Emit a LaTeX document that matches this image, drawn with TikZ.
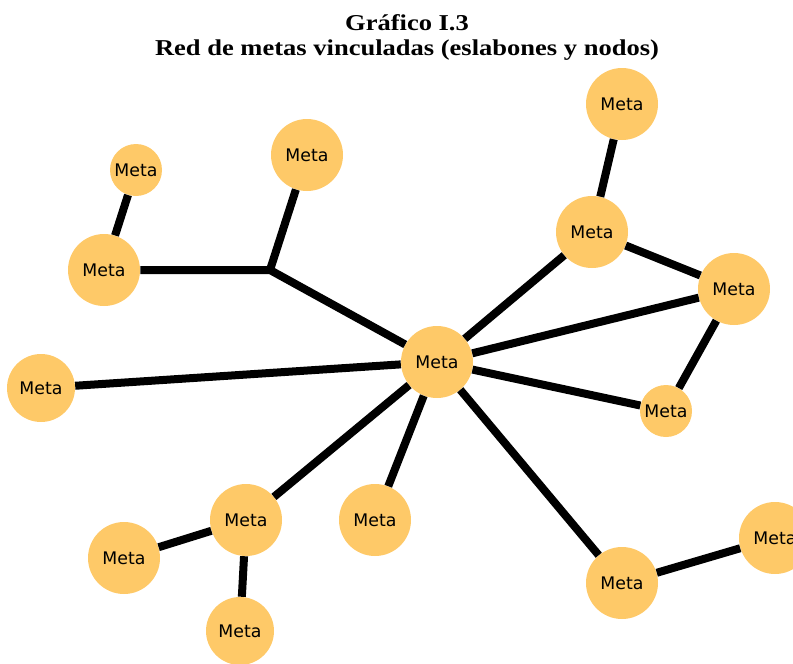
\documentclass[tikz,border=0pt]{standalone}
\usepackage{fontspec}
\setmainfont{Liberation Serif}
\newfontfamily\metafont{DejaVu Sans}
\newfontfamily\titlefont[FakeStretch=1.17]{Liberation Serif Bold}
\usetikzlibrary{calc}

\definecolor{metaorange}{RGB}{254,201,104}

\begin{document}
\begin{tikzpicture}[x=0.75pt,y=-0.75pt,
  meta/.style={circle, fill=metaorange, minimum size=54pt, inner sep=0pt, font=\metafont\fontsize{13}{15}\selectfont},
  metasmall/.style={meta, minimum size=39pt},
  heading/.style={font=\titlefont\fontsize{17}{19}\selectfont, anchor=base, inner sep=0pt},
  link/.style={black, line width=6pt}]
\useasboundingbox (0,0) rectangle (793,664);
% title
\node[heading] (title) at (407,30) {Gr\'afico I.3};
\node[heading] (subtitle) at (407,55) {Red de metas vinculadas (eslabones y nodos)};
% goals
\node[meta] (c) at (437,362) {Meta};
\node[metasmall] (tl) at (136,170) {Meta};
\node[meta] (l) at (104,270) {Meta};
\node[meta] (t) at (307,155) {Meta};
\node[meta, minimum size=51pt] (fl) at (41,388) {Meta};
\node[meta] (rtt) at (622,104) {Meta};
\node[meta] (rt) at (592,232) {Meta};
\node[meta] (r) at (734,289) {Meta};
\node[metasmall] (rs) at (666,411) {Meta};
\node[meta] (b) at (246,520) {Meta};
\node[meta] (bm) at (375,520) {Meta};
\node[meta] (bl) at (124,558) {Meta};
\node[meta, minimum size=51pt] (bb) at (240,631) {Meta};
\node[meta] (br) at (622,583) {Meta};
\node[meta] (fr) at (775,538) {Meta};
\coordinate (j) at (270,270);
% links
\draw[link] (tl) -- (l);
\draw[link, line join=round] (l) -- (j) -- (c);
\draw[link] (t) -- (j);
\draw[link] (fl) -- (c);
\draw[link] (c) -- (rt);
\draw[link] (rt) -- (rtt);
\draw[link] (rt) -- (r);
\draw[link] (c) -- (r);
\draw[link] (c) -- (rs);
\draw[link] (r) -- (rs);
\draw[link] (c) -- (bm);
\draw[link] (c) -- (b);
\draw[link] (b) -- (bl);
\draw[link] (b) -- (bb);
\draw[link] (c) -- (br);
\draw[link] (br) -- (fr);
\end{tikzpicture}
\end{document}
